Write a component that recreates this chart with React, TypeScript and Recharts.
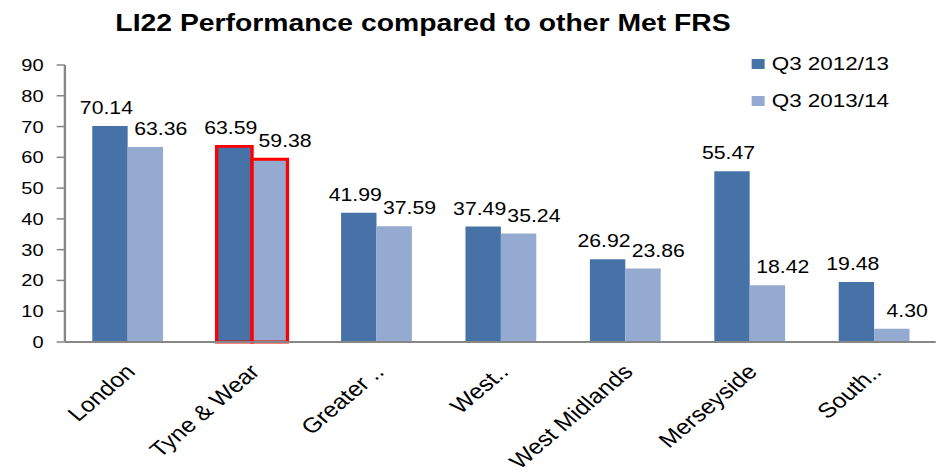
import React from "react";
import { BarChart, Bar, XAxis, YAxis, Cell, LabelList } from "recharts";

// Chart data
const categories = ["London", "Tyne & Wear", "Greater ..", "West..", "West Midlands", "Merseyside", "South.."];
const q3_2012 = [70.14, 63.59, 41.99, 37.49, 26.92, 55.47, 19.48];
const q3_2013 = [63.36, 59.38, 37.59, 35.24, 23.86, 18.42, 4.3];
const seriesNames = ["Q3 2012/13", "Q3 2013/14"];
const yTicks = [0, 10, 20, 30, 40, 50, 60, 70, 80, 90];
const highlighted = "Tyne & Wear";

const data = categories.map((name, i) => ({ name, a: q3_2012[i], b: q3_2013[i] }));

const FONT = '"Liberation Sans", Arial, sans-serif';
const DARK = "#4672A7";
const LIGHT = "#95AAD0";
const AXIS = "#878787";

// the reference is horizontally stretched, so draw narrower and scale X
const SX = 1.18;
const W = 795;
const H = 475;

const makeLabel = (dx: number) => (props: any) => {
  const { x, y, width, value } = props;
  return (
    <text
      x={Number(x) + Number(width) / 2 + dx}
      y={Number(y) - 12}
      textAnchor="middle"
      fontSize={18}
      fontFamily={FONT}
      fill="#000"
    >
      {Number(value).toFixed(2)}
    </text>
  );
};

const CategoryTick = (props: any) => {
  const { x, y, payload } = props;
  const ax = Number(x) + 8;
  const ay = Number(y) + 24;
  return (
    <text
      x={ax}
      y={ay}
      transform={`rotate(-45 ${ax} ${ay})`}
      textAnchor="end"
      fontSize={21}
      fontFamily={FONT}
      fill="#000"
    >
      {payload.value}
    </text>
  );
};

export default function App() {
  return (
    <div
      style={{
        position: "absolute",
        left: 0,
        top: 0,
        width: W,
        height: H,
        background: "#fff",
        transform: `scaleX(${SX})`,
        transformOrigin: "0 0",
        fontFamily: FONT,
      }}
    >
      {/* title */}
      <div
        style={{
          position: "absolute",
          left: 0,
          width: 717,
          top: 10,
          textAlign: "center",
          fontSize: 24,
          lineHeight: "26px",
          fontWeight: "bold",
          color: "#000",
        }}
      >
        LI22 Performance compared to other Met FRS
      </div>

      {/* legend */}
      {seriesNames.map((s, i) => (
        <div
          key={s}
          style={{
            position: "absolute",
            left: 637,
            top: 52 + i * 37,
            height: 24,
            display: "flex",
            alignItems: "center",
            fontSize: 19,
            color: "#000",
            whiteSpace: "nowrap",
          }}
        >
          <span style={{ display: "inline-block", width: 11, height: 10, background: i === 0 ? DARK : LIGHT, marginRight: 6 }} />
          {s}
        </div>
      ))}

      <BarChart
        width={W}
        height={H}
        data={data}
        margin={{ top: 65, right: 2, bottom: 26, left: 0 }}
        barCategoryGap="22%"
        barGap={0}
      >
        <XAxis
          xAxisId="b"
          dataKey="name"
          height={100}
          axisLine={false}
          tickLine={false}
          tickSize={0}
          tickMargin={0}
          interval={0}
          tick={<CategoryTick />}
        />
        {/* boundary tick marks on the category axis, Excel style */}
        <XAxis
          xAxisId="a"
          type="number"
          domain={[0, 7]}
          ticks={[0, 1, 2, 3, 4, 5, 6, 7]}
          tick={false}
          tickSize={6}
          height={7}
          axisLine={{ stroke: AXIS, strokeWidth: 2 }}
          tickLine={{ stroke: AXIS, strokeWidth: 1.5 }}
          allowDataOverflow
        />
        <YAxis
          width={55}
          domain={[0, 90]}
          ticks={yTicks}
          interval={0}
          tickSize={7}
          tickMargin={11}
          axisLine={{ stroke: AXIS, strokeWidth: 2 }}
          tickLine={{ stroke: AXIS, strokeWidth: 1.5 }}
          tick={{ fontSize: 17, fill: "#000", fontFamily: FONT }}
        />
        <Bar xAxisId="b" dataKey="a" name={seriesNames[0]} fill={DARK} isAnimationActive={false}>
          {data.map((d) => (
            <Cell
              key={d.name}
              fill={DARK}
              stroke={d.name === highlighted ? "#FF0000" : "none"}
              strokeWidth={d.name === highlighted ? 2.8 : 0}
            />
          ))}
          <LabelList dataKey="a" content={makeLabel(-3)} />
        </Bar>
        <Bar xAxisId="b" dataKey="b" name={seriesNames[1]} fill={LIGHT} isAnimationActive={false}>
          {data.map((d) => (
            <Cell
              key={d.name}
              fill={LIGHT}
              stroke={d.name === highlighted ? "#FF0000" : "none"}
              strokeWidth={d.name === highlighted ? 2.8 : 0}
            />
          ))}
          <LabelList dataKey="b" content={makeLabel(13)} />
        </Bar>
      </BarChart>
    </div>
  );
}
